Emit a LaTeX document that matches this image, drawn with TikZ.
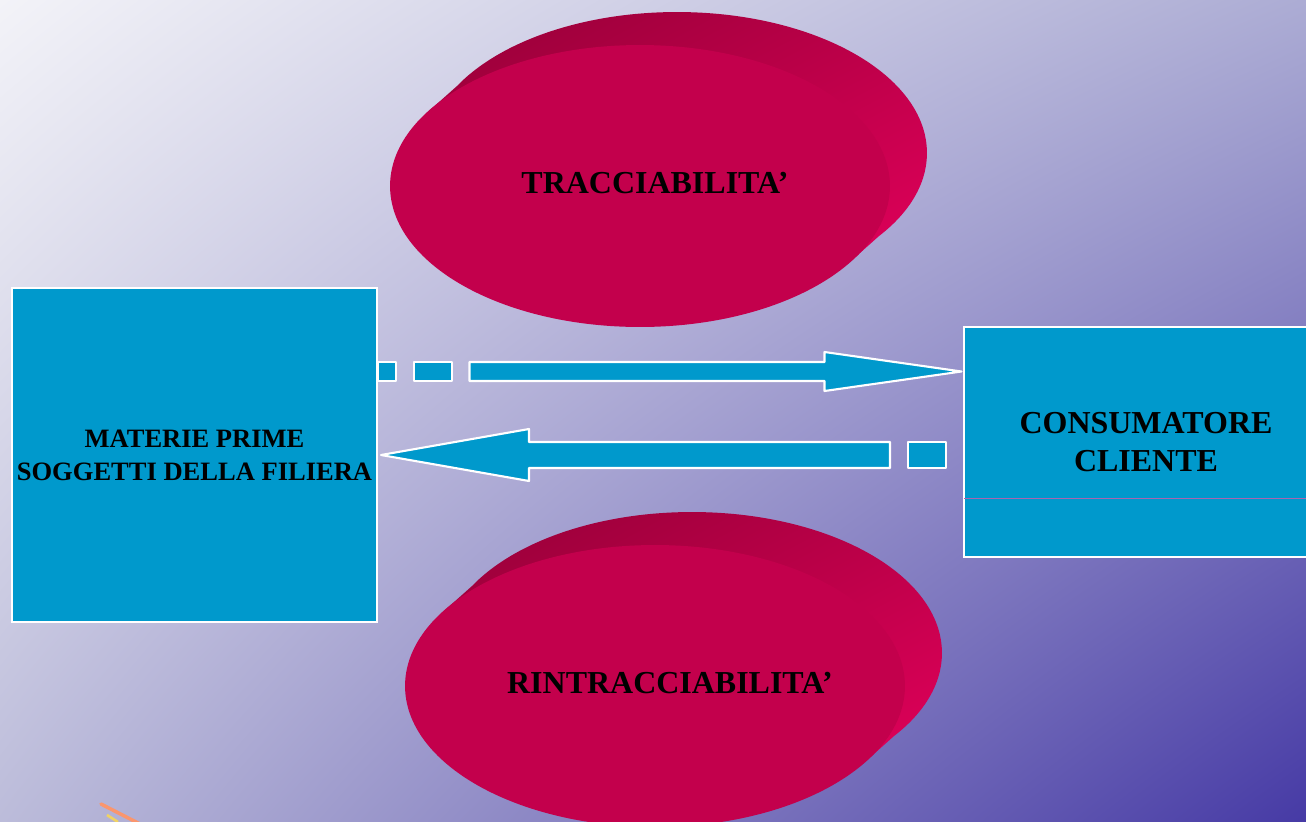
\documentclass[tikz,border=0pt]{standalone}
\usepackage{fontspec}
\setmainfont{Liberation Serif}
\usetikzlibrary{shadings}

\definecolor{boxblue}{RGB}{0,153,204}
\definecolor{diskfront}{RGB}{195,0,76}
\definecolor{diskdark}{RGB}{150,0,56}
\definecolor{diskmid}{RGB}{188,0,72}
\definecolor{disklight}{RGB}{228,0,92}
\definecolor{bgA}{RGB}{243,243,248}
\definecolor{bgB}{RGB}{172,172,212}
\definecolor{bgC}{RGB}{188,188,218}
\definecolor{bgD}{RGB}{70,58,165}
\definecolor{linepurple}{RGB}{170,100,175}
\definecolor{streakorange}{RGB}{250,150,110}
\definecolor{streakyellow}{RGB}{240,210,100}

\begin{document}
\begin{tikzpicture}
  [x=0.02cm,y=-0.02cm,every node/.style={text=black,align=center}]

	\tikzset{
	box/.style = {draw=white,line width=1.2pt,fill=boxblue,inner sep=0pt},
	block/.style = {draw=white,line width=1.2pt,fill=boxblue,line join=round},
	smalltext/.style = {font=\bfseries\fontsize{15.1}{18.7}\selectfont},
	bigtext/.style = {font=\bfseries\fontsize{18.2}{21.5}\selectfont}
	}

  \useasboundingbox (0,0) rectangle (1306,822);
  \shade[upper left=bgA,upper right=bgB,lower left=bgC,lower right=bgD]
    (0,0) rectangle (1306,822);

  \foreach \cx/\cy in {640/186,655/686}{
    \shade[upper left=diskdark,upper right=diskmid,lower left=diskmid,lower right=disklight]
      (\cx+37,\cy-33) ellipse [x radius=5cm,y radius=2.82cm]
      (\cx+211,\cy+75) -- (\cx+248,\cy+42) -- (\cx-174,\cy-108) -- (\cx-211,\cy-75) -- cycle;
    \fill[diskfront] (\cx,\cy) ellipse [x radius=5cm,y radius=2.82cm];
  }

  \node[bigtext] (tracc) at (655,183) {TRACCIABILITA’};
  \node[bigtext] (rintracc) at (670,683) {RINTRACCIABILITA’};

  \node[box,smalltext,minimum width=7.3cm,minimum height=6.68cm] (materie) at (194.5,455)
    {MATERIE PRIME\\SOGGETTI DELLA FILIERA};
  \node[box,bigtext,minimum width=7.28cm,minimum height=4.6cm] (consumatore) at (1146,442)
    {CONSUMATORE\\CLIENTE};

  \coordinate (divider) at (0,498);
  \draw[linepurple,line width=0.5pt] ([xshift=0.6pt]consumatore.west |- divider) -- (consumatore.east |- divider);

  \coordinate (rowtop) at (0,371.5);
  \coordinate (rowlow) at (0,455);

  \draw[block] ([xshift=-0.03cm]consumatore.west |- rowtop) -- ++(-137,-19.5) -- ++(0,10) -- ++(-355,0)
    -- ++(0,19) -- ++(355,0) -- ++(0,10) -- cycle;
  \draw[block] (414,362) rectangle ++(38,19);
  \draw[block] (378,362) rectangle ++(18,19);

  \draw[block] ([xshift=0.06cm]materie.east |- rowlow) -- ++(148,-26) -- ++(0,13) -- ++(361,0)
    -- ++(0,26) -- ++(-361,0) -- ++(0,13) -- cycle;
  \draw[block] (908,442) rectangle ++(38,26);

  \draw[streakorange,line width=2pt,line cap=round] (101,804) -- (140,824);
  \draw[streakyellow,line width=1.5pt] (107,815) -- (118,822);

\end{tikzpicture}
\end{document}
